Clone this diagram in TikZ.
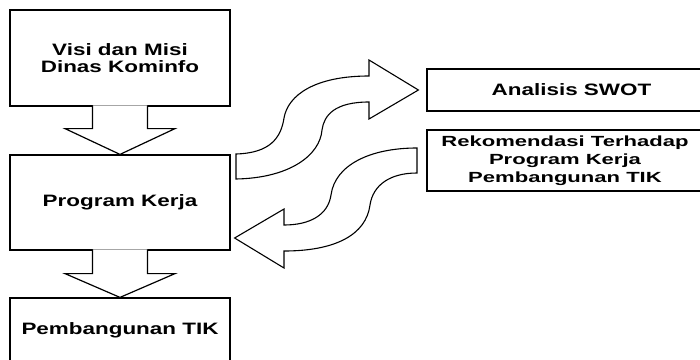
\documentclass[tikz,border=0pt]{standalone}
\usepackage{fontspec}
\setmainfont{Liberation Sans}[FakeStretch=1.36]
\newfontfamily\rekfont{Liberation Sans}[FakeStretch=1.5]
\usetikzlibrary{calc}
\begin{document}
\begin{tikzpicture}[x=1pt,y=-1pt,
  box/.style={draw=black,line width=1.2pt,fill=white,inner sep=0pt,align=center,
    font=\fontsize{16.5}{17}\selectfont\bfseries},
  rbox/.style={box,font=\rekfont\fontsize{14.7}{18}\selectfont\bfseries},
  blockarrow/.style={draw=black,line width=1.2pt,fill=white,line join=miter},
  curvearrow/.style={draw=black,line width=1.1pt,fill=white,line join=miter}]
\useasboundingbox (0,0) rectangle (700,359);
\clip (0,0) rectangle (700,359);
% left boxes
\node[box,minimum width=220,minimum height=96] (visi) at (120,58) {Visi dan Misi\\Dinas Kominfo};
\node[box,minimum width=220,minimum height=95] (prog) at (120,202.5) {Program Kerja};
\node[box,minimum width=220,minimum height=64] (pemb) at (120,330) {Pembangunan TIK};
% right boxes
\node[box,minimum width=289,minimum height=42] (swot) at (571.5,90) {Analisis SWOT};
\node[rbox,minimum width=276,minimum height=61] (rek) at (565,160.5) {Rekomendasi Terhadap\\Program Kerja\\Pembangunan TIK};
% down block arrows
\filldraw[blockarrow] ($(visi.south)+(-27.5,-1.2)$) -- ++(0,23.2) -- ++(-27.5,0)
  -- (prog.north) -- ($(visi.south)+(55,22)$) -- ++(-27.5,0) -- ++(0,-23.2);
\filldraw[blockarrow] ($(prog.south)+(-27.5,-1.2)$) -- ++(0,24.2) -- ++(-27.5,0)
  -- (pemb.north) -- ($(prog.south)+(55,23)$) -- ++(-27.5,0) -- ++(0,-24.2);
% upper curved arrow (to Analisis SWOT)
\coordinate (uptip) at ($(swot.west)+(-8,0)$);
\filldraw[curvearrow] (236,154) .. controls (270,153) and (281,138) .. (284,118)
  .. controls (288,95) and (315,76) .. (369,76) -- (369,60) -- (uptip)
  -- (369,119) -- (369,102)
  .. controls (335,102) and (324,115) .. (322,130)
  .. controls (320,155) and (290,178) .. (236,179) -- cycle;
% lower curved arrow (to Program Kerja)
\coordinate (lowtip) at ($(prog.east)+(4,35.5)$);
\filldraw[curvearrow] (417,148) .. controls (370,148) and (335,165) .. (331,195)
  .. controls (328,215) and (310,225) .. (284,225) -- (284,209) -- (lowtip)
  -- (284,268) -- (284,251)
  .. controls (335,251) and (366,235) .. (370,205)
  .. controls (373,185) and (390,173) .. (417,173) -- cycle;
\end{tikzpicture}
\end{document}
